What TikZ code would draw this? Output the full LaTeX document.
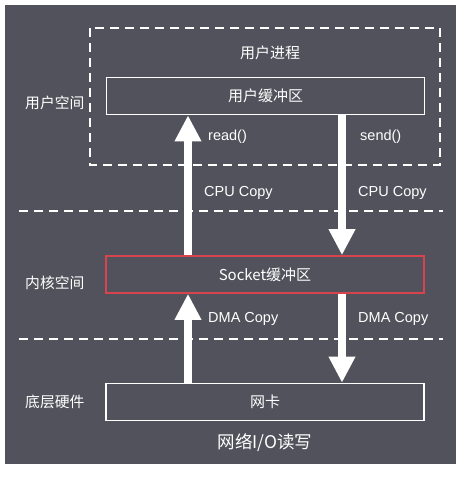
\documentclass[tikz,border=0pt]{standalone}
\usepackage{fontspec}
\setmainfont{Liberation Sans}
\newfontfamily\cjk{Noto Sans CJK SC}
\usepackage{xcolor}
\usepackage{tikz}
\usetikzlibrary{arrows.meta, calc, positioning}

\definecolor{nen}{HTML}{52525C}
\definecolor{viendo}{HTML}{D8434E}

\begin{document}
\begin{tikzpicture}[x=1pt, y=-1pt,
    hop/.style={draw=white, line width=1.6pt, minimum width=318pt, minimum height=37pt,
        text=white, font=\cjk\fontsize{15}{17}\selectfont},
    nhan/.style={text=white, anchor=west, font=\fontsize{14.5}{16}\selectfont, inner sep=0pt},
    vung/.style={text=white, anchor=west, font=\cjk\fontsize{14.8}{16}\selectfont, inner sep=0pt},
    netdut/.style={draw=white, line width=1.8pt, dash pattern=on 9pt off 6pt},
    muiten/.style={draw=white, line width=8pt, -{Triangle[width=25pt, length=26pt]}}]
    % Nền
    \useasboundingbox (0,0) rectangle (466,479);
    \fill[nen] (5,5) rectangle (456,464);

    % Tiến trình người dùng
    \draw[netdut] (90,28) rectangle (440,165);
    \node[text=white, font=\cjk\fontsize{15}{17}\selectfont] (tientrinh) at (270,53) {用户进程};

    % Các vùng đệm
    \node[hop] (userbuf) at (265.5,96) {用户缓冲区};
    \node[hop, draw=viendo] (sockbuf) at (265,274.5) {Socket缓冲区};
    \node[hop] (nic) at (265,402) {网卡};
    \node[text=white, font=\cjk\fontsize{17.5}{19}\selectfont] (tieude) at (265,443) {网络I/O读写};

    % Đường phân chia
    \draw[netdut] (19,211) -- (443,211);
    \draw[netdut] (19,339) -- (443,339);

    % Tên các tầng
    \node[vung] (ukg) at (25,103) {用户空间};
    \node[vung] (nkg) at (25,283) {内核空间};
    \node[vung] (tcp) at (25,402) {底层硬件};

    % Mũi tên
    \coordinate (trai) at (188,0);
    \coordinate (phai) at (342,0);
    \draw[muiten] (sockbuf.north -| trai) -- (userbuf.south -| trai);
    \draw[muiten] (userbuf.south -| phai) -- (sockbuf.north -| phai);
    \draw[muiten] (nic.north -| trai) -- (sockbuf.south -| trai);
    \draw[muiten] (sockbuf.south -| phai) -- (nic.north -| phai);

    % Nhãn
    \node[nhan] (read) at (208,137) {read()};
    \node[nhan] (send) at (360,137) {send()};
    \node[nhan] (cpu1) at (204,193) {CPU Copy};
    \node[nhan] (cpu2) at (358,193) {CPU Copy};
    \node[nhan] (dma1) at (208,319) {DMA Copy};
    \node[nhan] (dma2) at (358,319) {DMA Copy};
\end{tikzpicture}
\end{document}
